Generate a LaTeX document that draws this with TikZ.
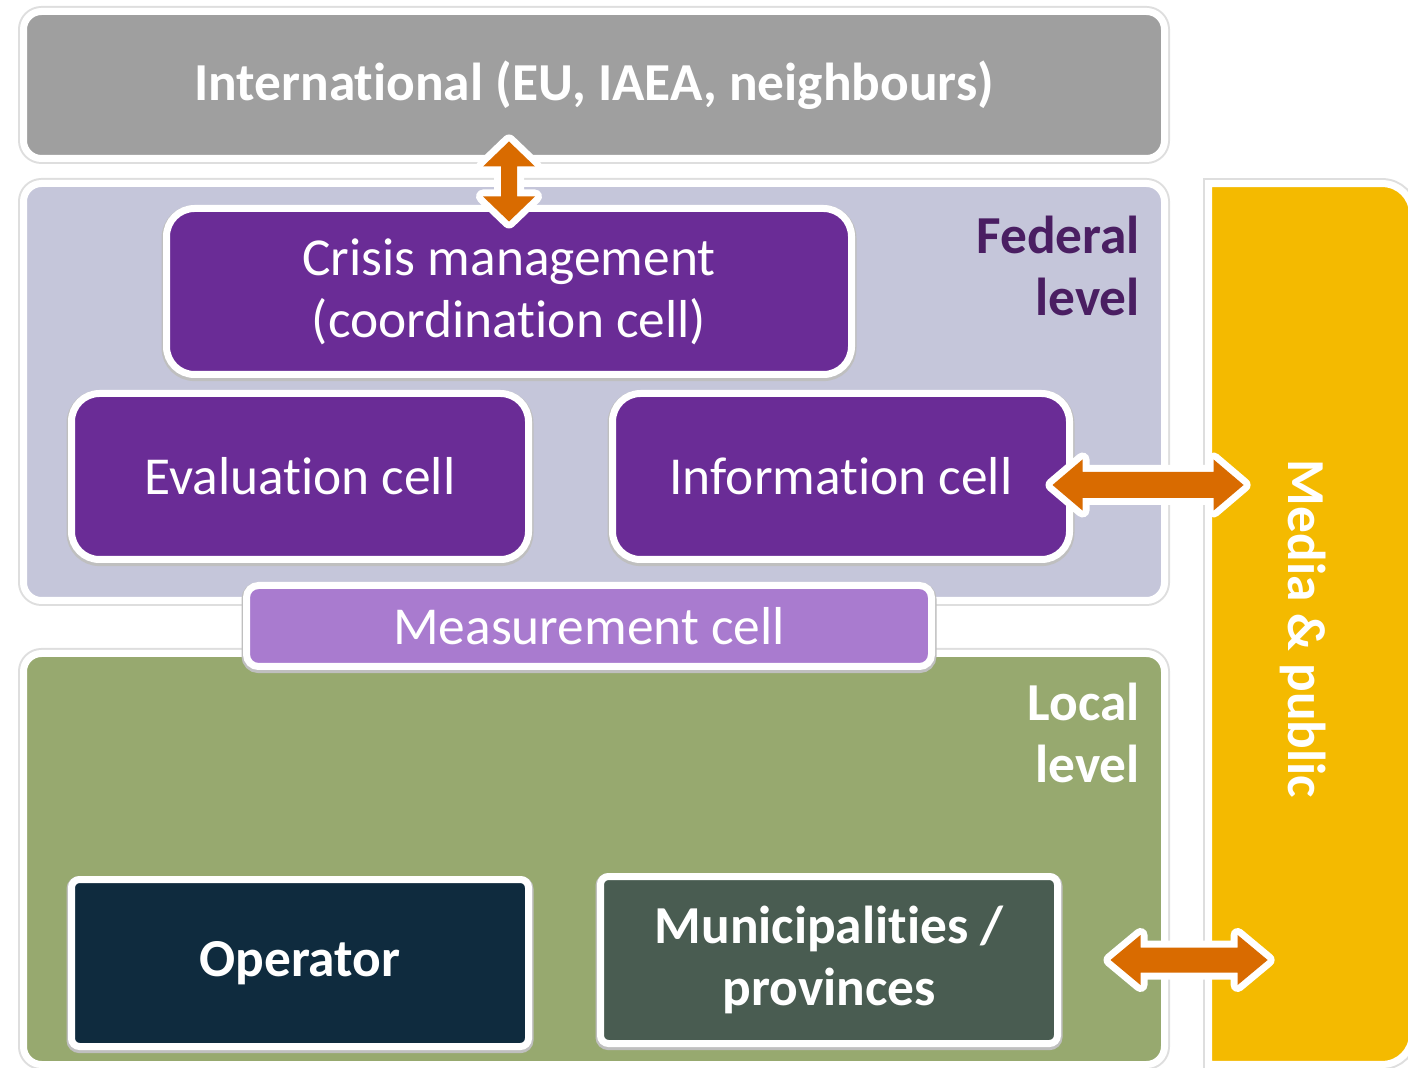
\documentclass[tikz,border=0pt]{standalone}
\usepackage{fontspec}
\setmainfont[Ligatures=NoCommon]{Carlito}
\usetikzlibrary{positioning,calc}
\definecolor{intgrey}{HTML}{9F9F9F}
\definecolor{fedbg}{HTML}{C5C6DA}
\definecolor{cellpurple}{HTML}{6A2C96}
\definecolor{measpurple}{HTML}{A97BCF}
\definecolor{localgreen}{HTML}{97A96F}
\definecolor{opblue}{HTML}{0F2B3E}
\definecolor{munigreen}{HTML}{495C51}
\definecolor{mediagold}{HTML}{F4BA00}
\definecolor{arroworange}{HTML}{D96B00}
\definecolor{fedtext}{HTML}{4A1E62}
\newcommand*{\bigtxt}{\fontsize{26.7}{31}\selectfont}
\tikzset{
  level/.style={draw=white,line width=3.5pt,rounded corners=9pt,inner sep=0pt,
    preaction={draw=black!13,line width=5.5pt}},
  cell/.style={draw=white,line width=3.5pt,inner sep=0pt,text=white,align=center,
    font=\bigtxt,rounded corners=14pt,preaction={draw=black!25,line width=5pt,transform canvas={yshift=-.8pt}}},
  linkback/.style={draw=white,fill=white,line width=7pt,line join=round},
  link/.style={fill=arroworange}
}
% #1 from, #2 to, #3 shaft half width, #4 head half width, #5 head length
\newcommand*{\fatlink}[5]{%
  \path let \p1=($(#2)-(#1)$) in \pgfextra{%
    \pgfmathsetmacro\linklen{veclen(\x1,\y1)}\xdef\linklen{\linklen}%
    \pgfmathsetmacro\linkang{atan2(\y1,\x1)}\xdef\linkang{\linkang}};
  \begin{scope}[shift={(#1)},rotate=\linkang]
    \foreach \s in {linkback,link}
      \path[\s] (0,0) -- (#5,#4) -- (#5,#3) -- (\linklen pt-#5,#3) -- (\linklen pt-#5,#4)
        -- (\linklen pt,0) -- (\linklen pt-#5,-#4) -- (\linklen pt-#5,-#3) -- (#5,-#3) -- (#5,-#4) -- cycle;
  \end{scope}}

\begin{document}
\begin{tikzpicture}[x=0.5pt,y=-0.5pt]
\useasboundingbox (0,0) rectangle (1408,1068);
% the three levels and the media column
\node[level,fill=intgrey,minimum width=570.5pt,minimum height=73.5pt,
  text=white,font=\bigtxt\bfseries] (intl) at (594,85) {International (EU, IAEA, neighbours)};
\node[level,fill=fedbg,minimum width=570.5pt,minimum height=208.5pt] (fed) at (594,392) {};
\node[level,fill=localgreen,minimum width=570.5pt,minimum height=205.5pt] (local) at (594,859) {};
\node[minimum width=101.5pt,minimum height=440pt,inner sep=0pt] (media) at (1310.5,624) {};
\draw[level,fill=mediagold,rounded corners=0pt] (media.south west) -- (media.north west)
  [rounded corners=15pt] -- (media.north east) -- (media.south east) [rounded corners=0pt] -- cycle;
\node[rotate=-90,text=white,font=\bigtxt\bfseries] (medialabel) at ([xshift=-3.5pt,yshift=-2.5pt]media.center) {Media \& public};
\node[anchor=north east,align=right,text=fedtext,font=\bigtxt\bfseries] (fedlabel) at (1147,209) {Federal\\level};
\node[anchor=north east,align=right,text=white,font=\bigtxt\bfseries] (locallabel) at (1147,676) {Local\\level};
% cells
\node[cell,fill=cellpurple,minimum width=342.5pt,minimum height=83pt] (crisis) at (509,291.5) {Crisis management\\(coordination cell)};
\node[cell,fill=cellpurple,minimum width=228.5pt,minimum height=83pt] (eval) at (300,476.5) {Evaluation cell};
\node[cell,fill=cellpurple,minimum width=228.5pt,minimum height=83pt] (info) at (841,476.5) {Information cell};
\node[cell,fill=measpurple,minimum width=342.5pt,minimum height=40.5pt,rounded corners=6pt] (meas) at (589,626) {Measurement cell};
\node[cell,fill=opblue,minimum width=228.5pt,minimum height=83.5pt,rounded corners=4pt,font=\bigtxt\bfseries] (oper) at (300,963) {Operator};
\node[cell,fill=munigreen,minimum width=228.5pt,minimum height=83.5pt,rounded corners=4pt,font=\bigtxt\bfseries] (muni) at (829,960) {Municipalities /\\provinces};
% arrows
\coordinate (va) at ([yshift=10.25pt]intl.south -| crisis.north);
\coordinate (vb) at ([yshift=-8.25pt]crisis.north);
\coordinate (ha) at ([xshift=-10.25pt,yshift=-4.25pt]info.east);
\coordinate (hb) at ([xshift=17.5pt]ha -| media.west);
\coordinate (ma) at ([xshift=24.75pt]muni.east);
\coordinate (mb) at ([xshift=29.5pt]ma -| media.west);
\fatlink{va}{vb}{4pt}{13pt}{12.5pt}
\fatlink{ha}{hb}{6.5pt}{12.75pt}{15pt}
\fatlink{ma}{mb}{6.25pt}{12.5pt}{15pt}
\end{tikzpicture}
\end{document}
